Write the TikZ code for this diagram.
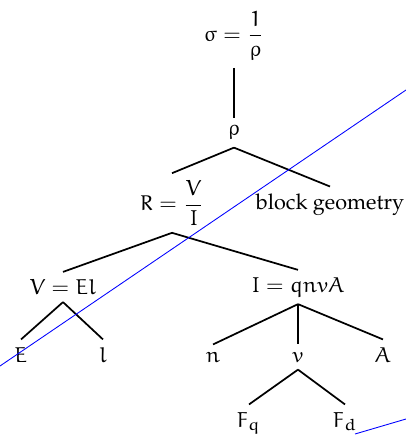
\documentclass[tikz,border=0pt]{standalone}
\usepackage[T1]{fontenc}
\usepackage{mathpazo}
\usepackage{amsmath}
\usepackage{tikz}
\usetikzlibrary{calc}

% upright Euler letters in math
\DeclareFontFamily{U}{eurx}{\skewchar\font'177}
\DeclareFontShape{U}{eurx}{m}{n}{<-6>eurm5<6-8>eurm7<8->eurm10}{}
\DeclareSymbolFont{letters}{U}{eurx}{m}{n}

\begin{document}
\begin{tikzpicture}[x=0.463pt, y=-0.463pt]
            % Fix the page to the reference size
            \useasboundingbox (0,0) rectangle (406,435);

            % Nodes of the tree
            \node (sigma) at (234,36) {$\sigma = \dfrac{\mathnormal{1}}{\rho}$};
            \node (rho) at (234,133) {$\rho$};
            \node (R) at (172,203) {$R = \dfrac{V}{I}$};
            \node (geom) at (330,205) {block geometry};
            \node (V) at (63,287) {$V = El$};
            \node (I) at (298,287) {$I = qnvA$};

            % Leaves
            \foreach \name/\x/\txt in {E/21/E, l/103/l, n/213/n, v/298/v, A/383/A}
                {
                    \node[anchor=base] (\name) at (\x,362) {$\txt$};
                }
            \node[anchor=base] (Fq) at (249,427) {$F_q$};
            \node[anchor=base] (Fd) at (345,427) {$F_d$};

            % Draw the branches
            \foreach \a/\b in {sigma/rho, rho/R, rho/geom, R/V, R/I, V/E, V/l, I/n, I/v, I/A, v/Fq, v/Fd}
                {
                    \draw[thick] (\a.south) -- (\b.north);
                }

            % Blue lines across the tree
            \coordinate (p1) at (0,366);
            \coordinate (p2) at (406,90);
            \draw[blue] (p1) -- (p2);
            \coordinate (q1) at (355,434);
            \coordinate (q2) at (406,419);
            \draw[blue] (q1) -- (q2);

        \end{tikzpicture}
\end{document}
